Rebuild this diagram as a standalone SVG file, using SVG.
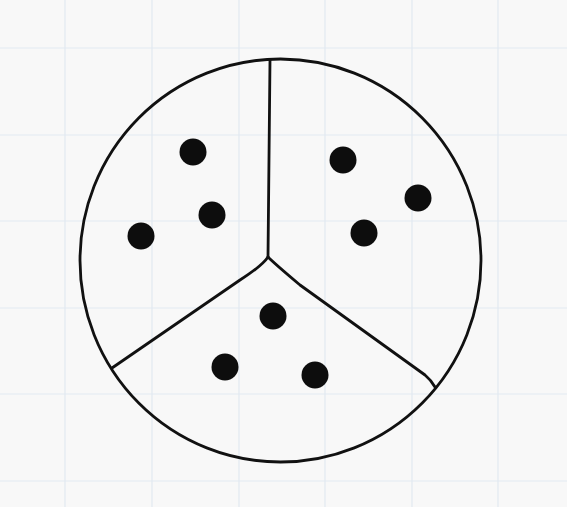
<svg xmlns="http://www.w3.org/2000/svg" width="567" height="507" viewBox="0 0 567 507">
<style>
.grid{stroke:#e2e9f1;stroke-width:1.2}
.ink{fill:none;stroke:#111;stroke-width:2.8;stroke-linecap:round;stroke-linejoin:round}
.dot{fill:#0d0d0d}
</style>
<rect width="567" height="507" fill="#f8f8f8"/>
<g id="grid">
<line class="grid" x1="65" y1="0" x2="65" y2="507"/>
<line class="grid" x1="152" y1="0" x2="152" y2="507"/>
<line class="grid" x1="239" y1="0" x2="239" y2="507"/>
<line class="grid" x1="325" y1="0" x2="325" y2="507"/>
<line class="grid" x1="412" y1="0" x2="412" y2="507"/>
<line class="grid" x1="498" y1="0" x2="498" y2="507"/>
<line class="grid" x1="0" y1="48" x2="567" y2="48"/>
<line class="grid" x1="0" y1="135" x2="567" y2="135"/>
<line class="grid" x1="0" y1="221" x2="567" y2="221"/>
<line class="grid" x1="0" y1="308" x2="567" y2="308"/>
<line class="grid" x1="0" y1="394" x2="567" y2="394"/>
<line class="grid" x1="0" y1="481" x2="567" y2="481"/>
</g>
<g id="circle">
<ellipse class="ink" cx="280.5" cy="260.5" rx="200.5" ry="201.5"/>
</g>
<g id="dividers">
<path class="ink" d="M270 60 Q269 160 268 257"/>
<path class="ink" d="M268 257 Q262 266 240 280 L112 368"/>
<path class="ink" d="M268 257 Q275 264 300 285 L425 375 Q431 380 435 387"/>
</g>
<g id="dots">
<circle class="dot" cx="193" cy="152" r="13.5"/>
<circle class="dot" cx="343" cy="160" r="13.5"/>
<circle class="dot" cx="418" cy="198" r="13.5"/>
<circle class="dot" cx="212" cy="215" r="13.5"/>
<circle class="dot" cx="141" cy="236" r="13.5"/>
<circle class="dot" cx="364" cy="233" r="13.5"/>
<circle class="dot" cx="273" cy="316" r="13.5"/>
<circle class="dot" cx="225" cy="367" r="13.5"/>
<circle class="dot" cx="315" cy="375" r="13.5"/>
</g>
</svg>
